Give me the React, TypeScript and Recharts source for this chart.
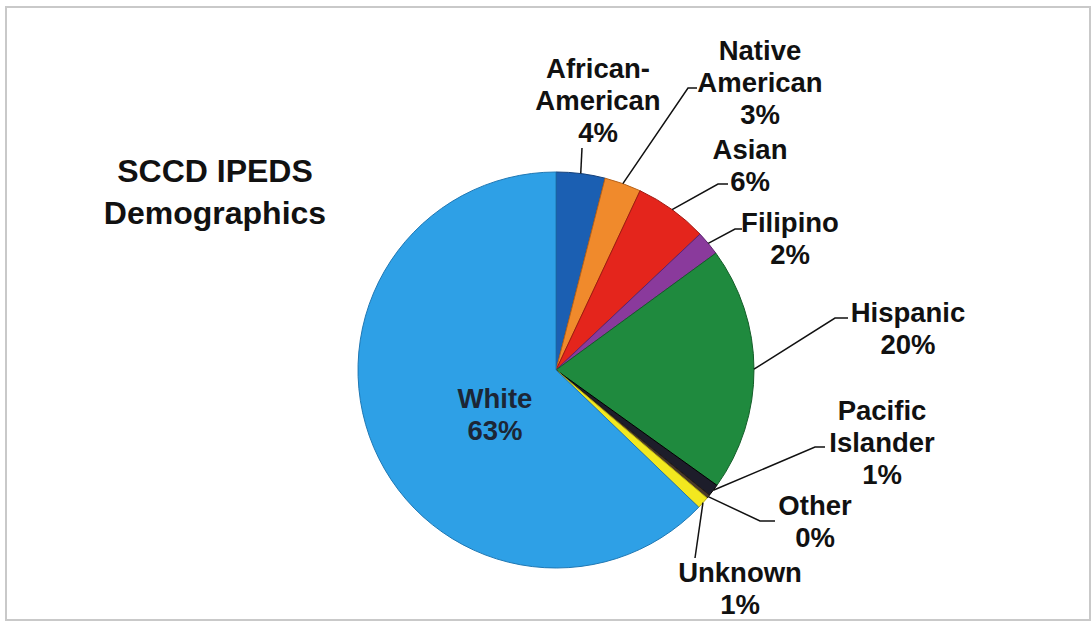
import { PieChart, Pie, Cell } from 'recharts';

const groups = [
  'African-American',
  'Native American',
  'Asian',
  'Filipino',
  'Hispanic',
  'Pacific Islander',
  'Other',
  'Unknown',
  'White',
];
const shares = [4, 3, 6, 2, 20, 1, 0.3, 1, 63];

const COLORS = ['#1b5fb2', '#f08a2c', '#e4251c', '#8a3a9c', '#1f8a3e', '#1d1d2a', '#4a3a2a', '#f3e81f', '#2ea0e6'];
const EDGES = ['#123f7a', '#b8621a', '#a01810', '#5e2470', '#145e29', '#000000', '#2a2018', '#b8ad10', '#1f78b4'];

// label placement relative to the pie centre: text centre of first line, elbow, end of the short tick
const LABEL_LAYOUT = [
  { tx: 42, ty: -302, ex: 26, ey: -222, hx: 26 },
  { tx: 204, ty: -320, ex: 132, ey: -282, hx: 141 },
  { tx: 194, ty: -221, ex: 162, ey: -186, hx: 172 },
  { tx: 234, ty: -148, ex: 179, ey: -141, hx: 186 },
  { tx: 352, ty: -58, ex: 279, ey: -52, hx: 292 },
  { tx: 326, ty: 40, ex: 259, ey: 77, hx: 269 },
  { tx: 259, ty: 135, ex: 204, ey: 151, hx: 219 },
  { tx: 184, ty: 202, ex: 139, ey: 188, hx: 139 },
  { tx: -61, ty: 28, ex: 0, ey: 0, hx: 0 },
];

const data = groups.map((name, i) => ({ name, value: shares[i] }));

const splitName = (name: string) => {
  if (name.includes('-')) {
    const k = name.indexOf('-');
    return [name.slice(0, k + 1), name.slice(k + 1)];
  }
  return name.split(' ');
};

const RADIAN = Math.PI / 180;
const FONT = "'Liberation Sans', Arial, sans-serif";

const renderLabel = (props: any) => {
  const { cx, cy, midAngle, outerRadius, percent, index, name } = props;
  const lay = LABEL_LAYOUT[index];
  const lines = [...splitName(name), `${Math.round(percent * 100)}%`];
  const inside = name === 'White';
  const sx = cx + outerRadius * Math.cos(-midAngle * RADIAN);
  const sy = cy + outerRadius * Math.sin(-midAngle * RADIAN);
  return (
    <g key={`lab-${index}`}>
      {!inside && (
        <polyline
          points={`${sx},${sy} ${cx + lay.ex},${cy + lay.ey} ${cx + lay.hx},${cy + lay.ey}`}
          fill="none"
          stroke="#111"
          strokeWidth={1.5}
        />
      )}
      {lines.map((ln, j) => (
        <text
          key={j}
          x={cx + lay.tx}
          y={cy + lay.ty + j * 32 + 10}
          textAnchor="middle"
          fontFamily={FONT}
          fontWeight="bold"
          fontSize={27.5}
          fill={inside ? '#1c2636' : '#111'}
        >
          {ln}
        </text>
      ))}
    </g>
  );
};

export default function App() {
  return (
    <div style={{ position: 'absolute', left: 0, top: 0, width: 1092, height: 623, background: '#fff' }}>
      <svg width={1092} height={623} style={{ position: 'absolute', left: 0, top: 0 }}>
        <rect x={6} y={7} width={1084} height={613} fill="#fff" stroke="#c9c9c9" strokeWidth={2} />
        <text x={215} y={182} textAnchor="middle" fontFamily={FONT} fontWeight="bold" fontSize={32} fill="#111">
          SCCD IPEDS
        </text>
        <text x={215} y={224} textAnchor="middle" fontFamily={FONT} fontWeight="bold" fontSize={32} fill="#111">
          Demographics
        </text>
      </svg>
      <div style={{ position: 'absolute', left: 0, top: 0 }}>
        <PieChart width={1092} height={623} margin={{ top: 0, right: 0, bottom: 0, left: 0 }}>
          <Pie
            data={data}
            dataKey="value"
            nameKey="name"
            cx={556}
            cy={370}
            outerRadius={198}
            startAngle={90}
            endAngle={-270}
            label={renderLabel}
            labelLine={false}
            isAnimationActive={false}
          >
            {data.map((d, i) => (
              <Cell key={`cell-${i}`} fill={COLORS[i]} stroke={EDGES[i]} strokeWidth={1} />
            ))}
          </Pie>
        </PieChart>
      </div>
    </div>
  );
}
